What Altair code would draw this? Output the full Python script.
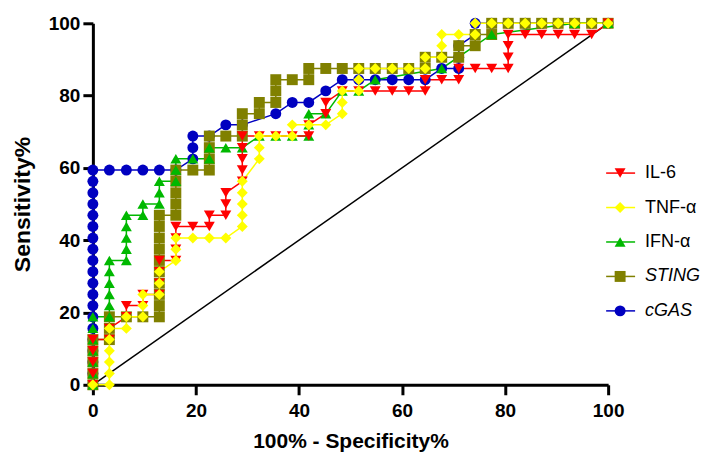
import altair as alt
import pandas as pd

# ---------------- data ----------------
series_names = ["IL-6", "TNF-α", "IFN-α", "STING", "cGAS"]
series_colors = ["#FF0000", "#FFFF00", "#00B800", "#808000", "#0000C0"]
series_shapes = ["triangle-down", "diamond", "triangle-up", "square", "circle"]
italic_names = ["STING", "cGAS"]
x_ticks = [0, 20, 40, 60, 80, 100]
y_ticks = [0, 20, 40, 60, 80, 100]
diag_x = [0, 100]
diag_y = [0, 100]

cgas = [(0, 0), (0, 3.1), (0, 6.3), (0, 9.4), (0, 12.5), (0, 15.6), (0, 18.8), (0, 21.9), (0, 25),
        (0, 28.1), (0, 31.3), (0, 34.4), (0, 37.5), (0, 40.6), (0, 43.8), (0, 46.9), (0, 50),
        (0, 53.1), (0, 56.3), (0, 59.4), (3.2, 59.4), (6.5, 59.4), (9.7, 59.4), (12.9, 59.4),
        (16.1, 59.4), (19.4, 62.5), (19.4, 65.6), (19.4, 68.8), (22.6, 68.8), (25.8, 71.9),
        (29, 71.9), (35.5, 75), (38.7, 78.1), (41.9, 78.1), (45.2, 81.3), (48.4, 84.4),
        (51.6, 84.4), (54.8, 84.4), (58.1, 84.4), (61.3, 84.4), (64.5, 84.4), (67.7, 87.5),
        (71, 87.5), (71, 90.6), (71, 93.8), (74.2, 96.9), (74.2, 100), (77.4, 100), (80.6, 100),
        (83.9, 100), (87.1, 100), (90.3, 100), (93.5, 100), (96.8, 100), (100, 100)]

sting = [(0, 0), (0, 3.1), (0, 6.3), (0, 9.4), (0, 12.5), (3.2, 12.5), (3.2, 15.6), (3.2, 18.8),
         (6.5, 18.8), (9.7, 18.8), (12.9, 18.8), (12.9, 21.9), (12.9, 25), (12.9, 28.1),
         (12.9, 31.3), (12.9, 34.4), (12.9, 37.5), (12.9, 40.6), (12.9, 43.8), (12.9, 46.9),
         (16.1, 46.9), (16.1, 50), (16.1, 53.1), (16.1, 56.3), (16.1, 59.4), (19.4, 59.4),
         (22.6, 59.4), (22.6, 62.5), (22.6, 65.6), (22.6, 68.8), (25.8, 68.8), (29, 68.8),
         (29, 71.9), (29, 75), (32.3, 75), (32.3, 78.1), (35.5, 78.1), (35.5, 81.3), (35.5, 84.4),
         (38.7, 84.4), (41.9, 84.4), (41.9, 87.5), (45.2, 87.5), (48.4, 87.5), (51.6, 87.5),
         (54.8, 87.5), (58.1, 87.5), (61.3, 87.5), (64.5, 87.5), (64.5, 90.6), (67.7, 90.6),
         (71, 90.6), (71, 93.8), (74.2, 93.8), (74.2, 96.9), (77.4, 96.9), (77.4, 100),
         (80.6, 100), (83.9, 100), (87.1, 100), (90.3, 100), (93.5, 100), (96.8, 100), (100, 100)]

il6 = [(0, 0), (0, 3.1), (0, 6.3), (0, 9.4), (0, 12.5), (3.2, 12.5), (3.2, 15.6), (6.5, 18.8),
       (6.5, 21.9), (9.7, 21.9), (9.7, 25), (12.9, 25), (12.9, 28.1), (12.9, 31.3), (12.9, 34.4),
       (16.1, 34.4), (16.1, 37.5), (16.1, 40.6), (16.1, 43.8), (19.4, 43.8), (22.6, 43.8),
       (22.6, 46.9), (25.8, 46.9), (25.8, 50), (25.8, 53.1), (29, 56.3), (29, 59.4), (29, 62.5),
       (29, 65.6), (29, 68.8), (32.3, 68.8), (35.5, 68.8), (38.7, 68.8), (41.9, 68.8),
       (41.9, 71.9), (45.2, 75), (45.2, 78.1), (48.4, 81.3), (51.6, 81.3), (54.8, 81.3),
       (58.1, 81.3), (61.3, 81.3), (64.5, 81.3), (64.5, 84.4), (67.7, 84.4), (71, 84.4),
       (71, 87.5), (74.2, 87.5), (77.4, 87.5), (80.6, 87.5), (80.6, 90.6), (80.6, 93.8),
       (80.6, 96.9), (83.9, 96.9), (87.1, 96.9), (90.3, 96.9), (93.5, 96.9), (96.8, 96.9),
       (100, 100)]

tnf = [(0, 0), (3.2, 0), (3.2, 3.1), (3.2, 6.3), (3.2, 9.4), (3.2, 12.5), (3.2, 15.6), (6.5, 15.6),
       (6.5, 18.8), (9.7, 18.8), (9.7, 21.9), (9.7, 25), (12.9, 25), (12.9, 28.1), (12.9, 31.3),
       (16.1, 34.4), (16.1, 37.5), (16.1, 40.6), (19.4, 40.6), (22.6, 40.6), (25.8, 40.6),
       (29, 43.8), (29, 46.9), (29, 50), (29, 53.1), (29, 56.3), (32.3, 62.5), (32.3, 65.6),
       (32.3, 68.8), (35.5, 68.8), (38.7, 68.8), (38.7, 71.9), (41.9, 71.9), (45.2, 71.9),
       (48.4, 75), (48.4, 78.1), (48.4, 81.3), (51.6, 81.3), (51.6, 84.4), (51.6, 87.5),
       (54.8, 87.5), (58.1, 87.5), (61.3, 87.5), (64.5, 87.5), (64.5, 90.6), (67.7, 90.6),
       (67.7, 93.8), (67.7, 96.9), (71, 96.9), (74.2, 96.9), (74.2, 100), (77.4, 100),
       (80.6, 100), (83.9, 100), (87.1, 100), (90.3, 100), (93.5, 100), (96.8, 100), (100, 100)]

ifn = [(0, 0), (0, 3.1), (0, 6.3), (0, 9.4), (0, 12.5), (0, 15.6), (0, 18.8), (3.2, 18.8),
       (3.2, 21.9), (3.2, 25), (3.2, 28.1), (3.2, 31.3), (3.2, 34.4), (6.5, 34.4), (6.5, 37.5),
       (6.5, 40.6), (6.5, 43.8), (6.5, 46.9), (9.7, 46.9), (9.7, 50), (12.9, 50), (12.9, 53.1),
       (12.9, 56.3), (16.1, 56.3), (16.1, 59.4), (16.1, 62.5), (19.4, 62.5), (22.6, 62.5),
       (22.6, 65.6), (25.8, 65.6), (29, 65.6), (32.3, 68.8), (35.5, 68.8), (38.7, 68.8),
       (41.9, 68.8), (41.9, 71.9), (41.9, 75), (45.2, 75), (48.4, 81.3), (51.6, 81.3),
       (54.8, 84.4), (67.7, 87.5), (77.4, 96.9), (93.5, 100), (100, 100)]

# drawing order: bottom -> top
draw_order = [("cGAS", cgas), ("STING", sting), ("IFN-α", ifn), ("IL-6", il6), ("TNF-α", tnf)]

rows = []
for layer_i, (name, pts) in enumerate(draw_order):
    for i, (x, y) in enumerate(pts):
        rows.append({"series": name, "x": x, "y": y, "idx": i, "layer": layer_i})
df = pd.DataFrame(rows)
diag_df = pd.DataFrame({"x": diag_x, "y": diag_y})
legend_df = pd.DataFrame({"series": series_names,
                          "italic": [n in italic_names for n in series_names]})

FONT = "Liberation Sans"
color_scale = alt.Scale(domain=series_names, range=series_colors)
shape_scale = alt.Scale(domain=series_names, range=series_shapes)

x_enc = alt.X("x:Q", scale=alt.Scale(domain=[0, 100], nice=False),
              axis=alt.Axis(values=x_ticks, title="100% - Specificity%", titlePadding=10,
                            labelFlush=False, labelPadding=7))
y_enc = alt.Y("y:Q", scale=alt.Scale(domain=[0, 100], nice=False),
              axis=alt.Axis(values=y_ticks, title="Sensitivity%", titlePadding=14,
                            titleFontSize=23, labelPadding=3))

diag = alt.Chart(diag_df).mark_line(color="black", strokeWidth=1.5).encode(x=x_enc, y=y_enc)

lines = alt.Chart(df).mark_line(strokeWidth=1.5).encode(
    x=x_enc, y=y_enc,
    color=alt.Color("series:N", scale=color_scale, legend=None),
    detail="series:N",
    order=alt.Order("idx:Q"),
)

points = alt.Chart(df).mark_point(filled=True, size=120, opacity=1).encode(
    x=x_enc, y=y_enc,
    color=alt.Color("series:N", scale=color_scale, legend=None),
    shape=alt.Shape("series:N", scale=shape_scale, legend=None),
    order=alt.Order("layer:Q"),
)

main = alt.layer(diag, lines, points)

leg_y = alt.Y("series:N", axis=None,
              scale=alt.Scale(type="point", domain=series_names, range=[150, 288], padding=0))

leg_rule = alt.Chart(legend_df).mark_rule(strokeWidth=1.5).encode(
    x=alt.value(514), x2=alt.value(543), y=leg_y,
    color=alt.Color("series:N", scale=color_scale, legend=None),
)
leg_pt = alt.Chart(legend_df).mark_point(filled=True, size=120, opacity=1).encode(
    x=alt.value(528), y=leg_y,
    color=alt.Color("series:N", scale=color_scale, legend=None),
    shape=alt.Shape("series:N", scale=shape_scale, legend=None),
)
leg_txt = alt.Chart(legend_df).transform_filter("!datum.italic").mark_text(
    align="left", baseline="middle", font=FONT, fontSize=18, color="black"
).encode(x=alt.value(553), y=leg_y, text="series:N")
leg_txt_i = alt.Chart(legend_df).transform_filter("datum.italic").mark_text(
    align="left", baseline="middle", font=FONT, fontSize=18, fontStyle="italic", color="black"
).encode(x=alt.value(553), y=leg_y, text="series:N")

legend = alt.layer(leg_rule, leg_pt, leg_txt, leg_txt_i)

chart = alt.layer(main, legend).resolve_scale(y="independent").properties(
    width=516, height=362,
    padding={"left": 3, "top": 6, "right": 0, "bottom": 0},
).configure_view(stroke=None).configure_axis(
    grid=False,
    domainColor="black", domainWidth=3,
    tickColor="black", tickWidth=3, tickSize=10,
    labelFont=FONT, labelFontSize=19, labelFontWeight="bold", labelColor="black",
    titleFont=FONT, titleFontSize=21, titleFontWeight="bold", titleColor="black",
)

chart.save("out.html", embed_options={"renderer": "svg", "actions": False})
